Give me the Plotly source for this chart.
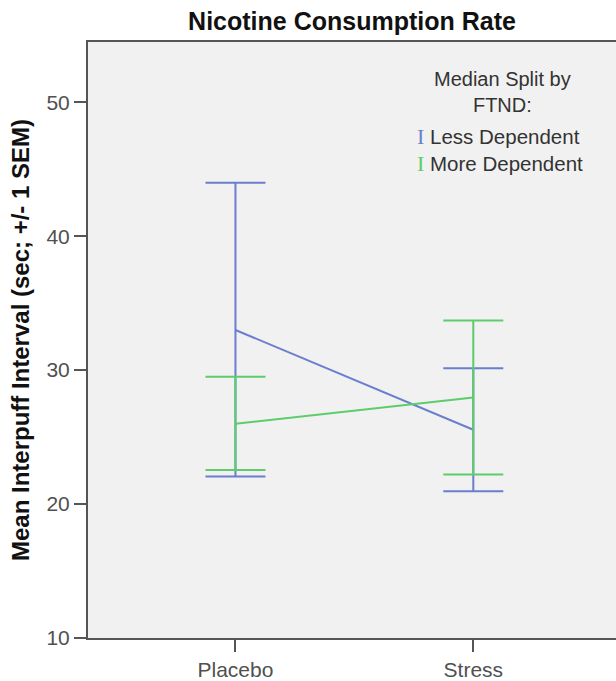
import plotly.graph_objects as go

categories = ["Placebo", "Stress"]
less_mean = [33.0, 25.55]
less_upper = [44.0, 30.15]
less_lower = [22.05, 20.95]
more_mean = [26.0, 27.95]
more_upper = [29.5, 33.7]
more_lower = [22.55, 22.2]
series_names = ["Less Dependent", "More Dependent"]
y_ticks = [10, 20, 30, 40, 50]

blue = "#6a7ed0"
green = "#5dcd6a"

fig = go.Figure()
for name, mean, up, lo, col in [
    (series_names[0], less_mean, less_upper, less_lower, blue),
    (series_names[1], more_mean, more_upper, more_lower, green),
]:
    fig.add_trace(go.Scatter(
        x=categories, y=mean, mode="lines", name=name,
        line=dict(color=col, width=2),
        error_y=dict(type="data", symmetric=False,
                     array=[u - m for u, m in zip(up, mean)],
                     arrayminus=[m - l for m, l in zip(mean, lo)],
                     color=col, thickness=2, width=30),
        showlegend=False,
    ))

fig.update_layout(
    width=616, height=681,
    margin=dict(l=88, r=0, t=42, b=40),
    paper_bgcolor="white", plot_bgcolor="#f1f1f1",
    font=dict(family="Liberation Sans, Arial", color="#444"),
    title=dict(text="<b>Nicotine Consumption Rate</b>", x=352 / 616, xanchor="center",
               y=1 - 21 / 681, yanchor="middle", font=dict(size=25, color="#111")),
    xaxis=dict(type="category", range=[-0.62, 1.6], showline=True, linecolor="#555", linewidth=2,
               mirror=True, ticks="outside", ticklen=12, tickcolor="#555", tickwidth=2,
               tickfont=dict(size=21, color="#505050"), showgrid=False, zeroline=False),
    yaxis=dict(range=[10, 54.5], tickvals=y_ticks, showline=True, linecolor="#555", linewidth=2,
               ticks="outside", ticklen=12, tickcolor="#555", tickwidth=2,
               tickfont=dict(size=21, color="#505050"), showgrid=False, zeroline=False,
               title=dict(text="<b>Mean Interpuff Interval (sec; +/- 1 SEM)</b>",
                          font=dict(size=24, color="#111"), standoff=10)),
)

fig.add_annotation(xref="paper", yref="paper", x=(502 - 88) / 528, y=(641 - 92) / 599,
                   text="Median Split by<br>FTND:", showarrow=False, align="center",
                   font=dict(size=20, color="#333"), xanchor="center", yanchor="middle")
for i, (name, col) in enumerate(zip(series_names, [blue, green])):
    ypx = 137 + 27 * i
    fig.add_annotation(xref="paper", yref="paper", x=(415 - 88) / 528, y=(641 - ypx) / 599,
                       text=f"<span style='color:{col};font-family:Liberation Serif;font-size:22px'>I</span> {name}",
                       showarrow=False, align="left", xanchor="left", yanchor="middle",
                       font=dict(size=20.5, color="#333"))

fig.write_html("out.html")
